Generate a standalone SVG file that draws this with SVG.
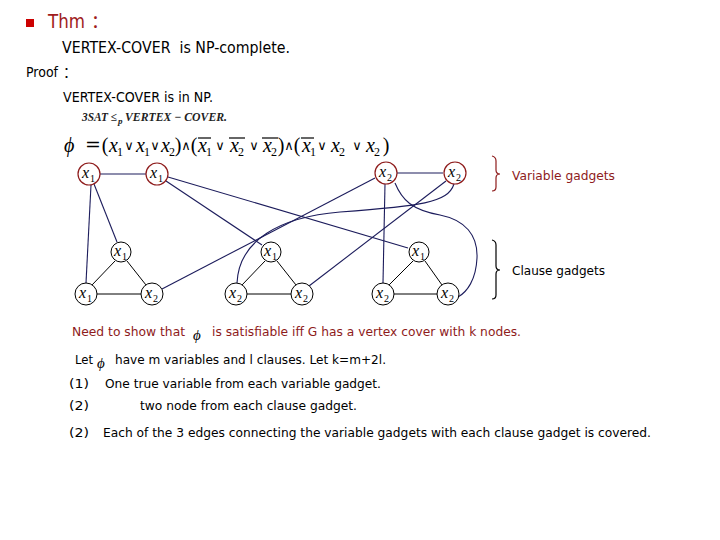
<svg xmlns="http://www.w3.org/2000/svg" width="720" height="540" viewBox="0 0 720 540">
<style>
.t{font-family:"DejaVu Sans","Liberation Sans",sans-serif;font-size:13px;fill:#000}
.red{fill:#8e1b1b}
.m{font-family:"Liberation Serif","DejaVu Serif",serif;font-style:italic;font-size:20px;fill:#000}
.p{font-family:"Liberation Serif","DejaVu Serif",serif;font-size:20px;fill:#000;text-anchor:middle}
.ms{font-family:"Liberation Serif","DejaVu Serif",serif;font-size:12px;fill:#000}
.op{font-family:"DejaVu Serif",serif;font-size:13px;fill:#000;text-anchor:middle}
.bar{stroke:#000;stroke-width:1.2}
.vn{fill:#fff;stroke:#8e1b1b;stroke-width:1.2}
.cn{fill:#fff;stroke:#000;stroke-width:1}
.nl{font-family:"Liberation Serif","DejaVu Serif",serif;font-style:italic;font-size:16px;fill:#000}
.ns{font-family:"Liberation Serif","DejaVu Serif",serif;font-size:10px;fill:#000}
.e{stroke:#1c1c5c;stroke-width:1.1;fill:none}
.tri{stroke:#000;stroke-width:1;fill:none}
</style>
<rect width="720" height="540" fill="#fff"/>
<rect x="26" y="19" width="8" height="8" fill="#cc0000"/>
<text x="48" y="28" style="font-family:'DejaVu Sans',sans-serif;font-size:19px;fill:#a01c1c" textLength="37" lengthAdjust="spacingAndGlyphs">Thm</text>
<text x="91" y="28" style="font-family:'Noto Sans CJK SC',sans-serif;font-size:18px;fill:#a01c1c">：</text>
<text class="t" x="62" y="53" style="font-size:16px" textLength="228" lengthAdjust="spacingAndGlyphs" xml:space="preserve">VERTEX-COVER  is NP-complete.</text>
<text class="t" x="26" y="77" style="font-size:14px" textLength="32" lengthAdjust="spacingAndGlyphs">Proof</text>
<text x="63" y="77" style="font-family:'Noto Sans CJK SC',sans-serif;font-size:14px">：</text>
<text class="t" x="63" y="102" style="font-size:14px" textLength="150" lengthAdjust="spacingAndGlyphs">VERTEX-COVER is in NP.</text>
<g style="font-family:'Liberation Serif',serif;font-style:italic;font-weight:bold;font-size:12px;fill:#222">
<text x="82" y="121" textLength="35" lengthAdjust="spacingAndGlyphs">3SAT ≤</text>
<text x="118" y="124" style="font-size:9px">p</text>
<text x="125" y="121" textLength="102" lengthAdjust="spacingAndGlyphs">VERTEX − COVER.</text>
</g>
<g id="formula">
<text class="m" x="64" y="152">ϕ</text>
<text class="op" x="93" y="151" style="font-size:19px">=</text>
<text class="p" x="105" y="152">(</text>
<text class="m" x="109" y="152">x</text><text class="ms" x="117" y="156">1</text>
<text class="op" x="129" y="150">∨</text>
<text class="m" x="136" y="152">x</text><text class="ms" x="144" y="156">1</text>
<text class="op" x="155" y="150">∨</text>
<text class="m" x="161" y="152">x</text><text class="ms" x="169" y="156">2</text>
<text class="p" x="178" y="152">)</text>
<text class="op" x="186" y="150">∧</text>
<text class="p" x="194" y="152">(</text>
<text class="m" x="198" y="152">x</text><text class="ms" x="206" y="156">1</text>
<line class="bar" x1="198" y1="138" x2="211" y2="138"/>
<text class="op" x="220" y="150">∨</text>
<text class="m" x="230" y="152">x</text><text class="ms" x="238" y="156">2</text>
<line class="bar" x1="229" y1="138" x2="245" y2="138"/>
<text class="op" x="254" y="150">∨</text>
<text class="m" x="263" y="152">x</text><text class="ms" x="271" y="156">2</text>
<line class="bar" x1="262" y1="138" x2="278" y2="138"/>
<text class="p" x="281" y="152">)</text>
<text class="op" x="289" y="150">∧</text>
<text class="p" x="297" y="152">(</text>
<text class="m" x="302" y="152">x</text><text class="ms" x="310" y="156">1</text>
<line class="bar" x1="301" y1="138" x2="314" y2="138"/>
<text class="op" x="322" y="150">∨</text>
<text class="m" x="331" y="152">x</text><text class="ms" x="339" y="156">2</text>
<text class="op" x="357" y="150">∨</text>
<text class="m" x="366" y="152">x</text><text class="ms" x="374" y="156">2</text>
<text class="p" x="386" y="152">)</text>
</g>
<g id="connectors">
<line class="e" x1="100" y1="174" x2="146" y2="174"/>
<line class="e" x1="397" y1="173" x2="443" y2="173"/>
<line class="e" x1="91" y1="185" x2="86" y2="283"/>
<line class="e" x1="94" y1="184" x2="117" y2="242"/>
<line class="e" x1="166" y1="181" x2="262" y2="245"/>
<line class="e" x1="168" y1="177" x2="408" y2="248"/>
<line class="e" x1="375" y1="178" x2="162" y2="289"/>
<line class="e" x1="385" y1="184" x2="383" y2="283"/>
<line class="e" x1="446" y1="181" x2="309" y2="286"/>
<path class="e" d="M454,184 C448,203 420,206 340,212 C280,217 239,240 237,283"/>
<path class="e" d="M395,183 C402,200 412,210 440,215 C465,220 478,235 477,258 C476,280 467,292 458,297"/>
<line class="tri" x1="115" y1="261" x2="92" y2="285"/>
<line class="tri" x1="127" y1="261" x2="146" y2="285"/>
<line class="tri" x1="97" y1="294" x2="141" y2="294"/>
<line class="tri" x1="265" y1="261" x2="242" y2="285"/>
<line class="tri" x1="277" y1="261" x2="296" y2="285"/>
<line class="tri" x1="247" y1="294" x2="291" y2="294"/>
<line class="tri" x1="413" y1="261" x2="389" y2="285"/>
<line class="tri" x1="425" y1="261" x2="442" y2="285"/>
<line class="tri" x1="394" y1="294" x2="437" y2="294"/>
</g>
<g id="v1"><circle class="vn" cx="89" cy="174" r="11"/><text class="nl" x="82" y="178">x</text><text class="ns" x="90" y="182">1</text></g>
<g id="v2"><circle class="vn" cx="157" cy="174" r="11"/><text class="nl" x="150" y="178">x</text><text class="ns" x="158" y="182">1</text></g>
<g id="v3"><circle class="vn" cx="386" cy="173" r="11"/><text class="nl" x="379" y="177">x</text><text class="ns" x="387" y="181">2</text></g>
<g id="v4"><circle class="vn" cx="455" cy="173" r="11"/><text class="nl" x="448" y="177">x</text><text class="ns" x="456" y="181">2</text></g>
<g id="c1t"><circle class="cn" cx="121" cy="252" r="10"/><text class="nl" x="114" y="256">x</text><text class="ns" x="122" y="260">1</text></g>
<g id="c1l"><circle class="cn" cx="86" cy="294" r="11"/><text class="nl" x="79" y="298">x</text><text class="ns" x="87" y="302">1</text></g>
<g id="c1r"><circle class="cn" cx="152" cy="294" r="11"/><text class="nl" x="145" y="298">x</text><text class="ns" x="153" y="302">2</text></g>
<g id="c2t"><circle class="cn" cx="271" cy="252" r="10"/><text class="nl" x="264" y="256">x</text><text class="ns" x="272" y="260">1</text></g>
<g id="c2l"><circle class="cn" cx="236" cy="294" r="11"/><text class="nl" x="229" y="298">x</text><text class="ns" x="237" y="302">2</text></g>
<g id="c2r"><circle class="cn" cx="302" cy="294" r="11"/><text class="nl" x="295" y="298">x</text><text class="ns" x="303" y="302">2</text></g>
<g id="c3t"><circle class="cn" cx="419" cy="252" r="10"/><text class="nl" x="412" y="256">x</text><text class="ns" x="420" y="260">1</text></g>
<g id="c3l"><circle class="cn" cx="383" cy="294" r="11"/><text class="nl" x="376" y="298">x</text><text class="ns" x="384" y="302">2</text></g>
<g id="c3r"><circle class="cn" cx="448" cy="294" r="11"/><text class="nl" x="441" y="298">x</text><text class="ns" x="449" y="302">2</text></g>
<path d="M492,156 Q496,157 496,161 L496,170 Q496,174 500,174 Q496,174 496,178 L496,187 Q496,191 492,191" fill="none" stroke="#8e1b1b" stroke-width="1.2"/>
<text class="t red" x="512" y="180" textLength="103" lengthAdjust="spacingAndGlyphs">Variable gadgets</text>
<path d="M492,240 Q496,241 496,245 L496,266 Q496,270 500,270 Q496,270 496,274 L496,295 Q496,299 492,299" fill="none" stroke="#000" stroke-width="1.2"/>
<text class="t" x="512" y="275" textLength="93" lengthAdjust="spacingAndGlyphs">Clause gadgets</text>
<text class="t red" x="72" y="336" textLength="113" lengthAdjust="spacingAndGlyphs">Need to show that</text>
<text x="193" y="340" style="font-family:'Liberation Serif',serif;font-style:italic;font-size:15px">ϕ</text>
<text class="t red" x="212" y="336" textLength="309" lengthAdjust="spacingAndGlyphs">is satisfiable iff G has a vertex cover with k nodes.</text>
<text class="t" x="75" y="364" textLength="18" lengthAdjust="spacingAndGlyphs">Let</text>
<text x="97" y="368" style="font-family:'Liberation Serif',serif;font-style:italic;font-size:15px">ϕ</text>
<text class="t" x="115" y="364" textLength="271" lengthAdjust="spacingAndGlyphs">have m variables and l clauses. Let k=m+2l.</text>
<text class="t" x="69" y="388" textLength="20" lengthAdjust="spacingAndGlyphs">(1)</text>
<text class="t" x="105" y="388" textLength="276" lengthAdjust="spacingAndGlyphs">One true variable from each variable gadget.</text>
<text class="t" x="69" y="410" textLength="20" lengthAdjust="spacingAndGlyphs">(2)</text>
<text class="t" x="140" y="410" textLength="217" lengthAdjust="spacingAndGlyphs">two node from each clause gadget.</text>
<text class="t" x="69" y="437" textLength="20" lengthAdjust="spacingAndGlyphs">(2)</text>
<text class="t" x="103" y="437" textLength="548" lengthAdjust="spacingAndGlyphs">Each of the 3 edges connecting the variable gadgets with each clause gadget is covered.</text>
</svg>
